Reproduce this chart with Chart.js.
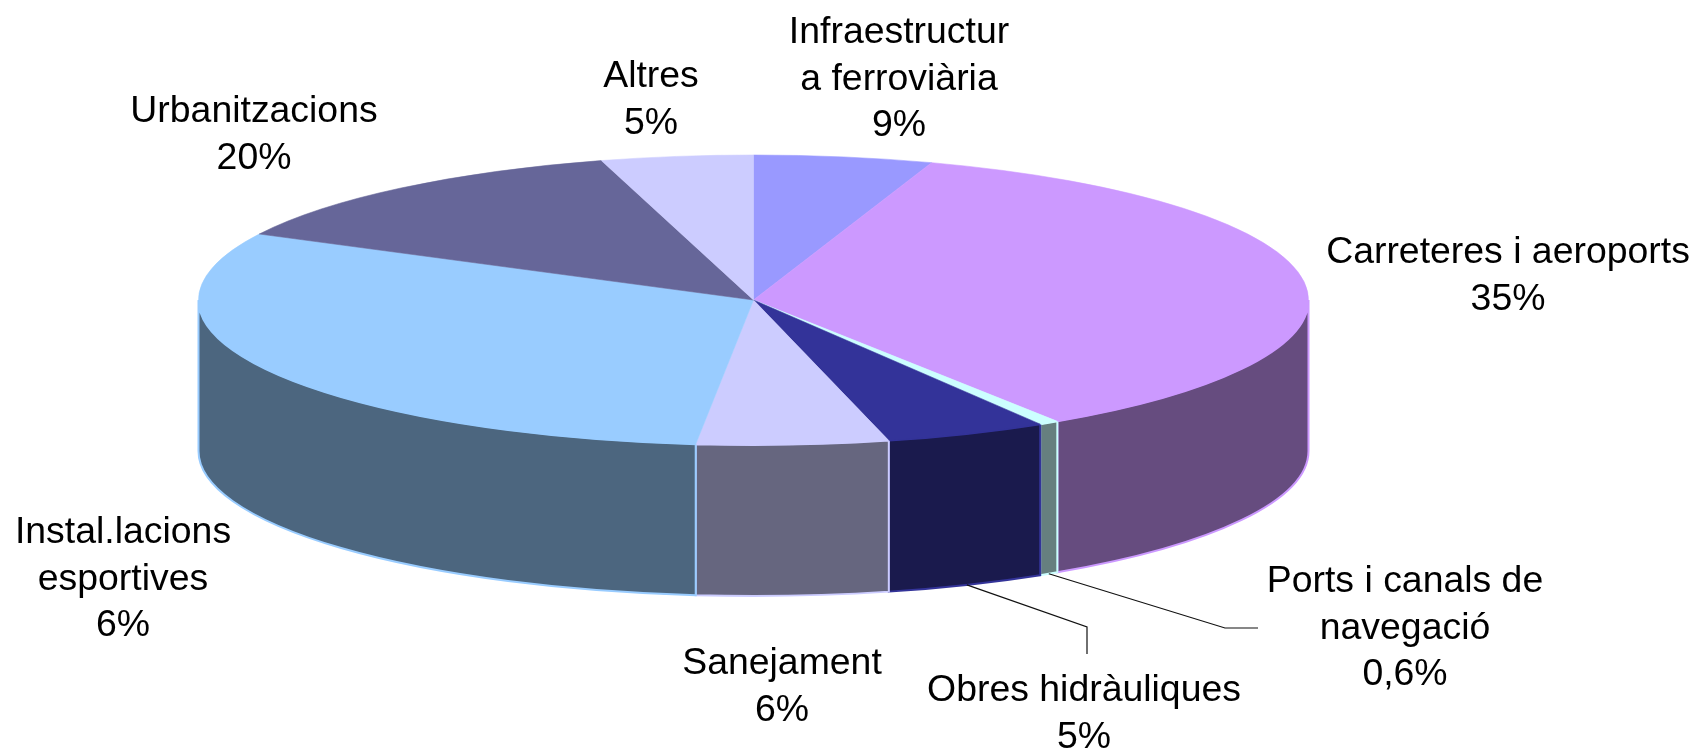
<!DOCTYPE html>
<html>
<head>
<meta charset="utf-8">
<style>html,body{margin:0;padding:0;background:#fff}canvas{display:block}</style>
<script src="https://cdn.jsdelivr.net/npm/chart.js@4"></script>
</head>
<body>
<canvas id="c" width="1698" height="752"></canvas>
<script>
// Slices in clockwise order from 12 o'clock
const categories = ["Infraestructura ferroviària","Carreteres i aeroports","Ports i canals de navegació","Obres hidràuliques","Sanejament","Instal.lacions esportives","Urbanitzacions","Altres"];
const sliceShares = [5.2,35.58,0.58,4.72,5.58,30.86,13.06,4.42];
const printedPercents = ["9%","35%","0,6%","5%","6%","6%","20%","5%"];
const labelLines = [["Infraestructur","a ferroviària"],["Carreteres i aeroports"],["Ports i canals de","navegació"],["Obres hidràuliques"],["Sanejament"],["Instal.lacions","esportives"],["Urbanitzacions"],["Altres"]];
const topColors = ["#9999FF","#CC99FF","#CCFFFF","#333399","#CCCCFF","#99CCFF","#666699","#CCCCFF"];
const wallColors = ["#4C4C7F","#664C7F","#667F7F","#1A1A4D","#66667F","#4C667F","#33334D","#66667F"];

// Layout of the tilted pie and of the annotations (style only)
const pie = {cx:753.5, cy:300, rx:555, ry:145, depth:151};
const labelCenters = [[899,33],[1508,253],[1405,582],[1084,691],[782,664],[123,533],[254,112],[651,77]];
const lineHeight = 46.5;
const leaders = {2:[[1225,628],[1258,628]], 3:[[1087,627],[1087,654]]};

const tilted = {
  id:'tilted',
  beforeDatasetsDraw(chart){
    const ctx = chart.ctx, arcs = chart.getDatasetMeta(0).data;
    const {cx,cy,rx,ry,depth} = pie;
    ctx.save();
    // side wall of every slice, from the library's arc angles
    arcs.forEach((a,i)=>{
      const s = a.startAngle, e = a.endAngle;
      [[s,e],[s-2*Math.PI,e-2*Math.PI],[s+2*Math.PI,e+2*Math.PI]].forEach(([p,q])=>{
        const s0 = Math.max(p,0), e0 = Math.min(q,Math.PI);
        if(e0<=s0) return;
        ctx.beginPath();
        ctx.ellipse(cx,cy,rx,ry,0,s0,e0,false);
        ctx.ellipse(cx,cy+depth,rx,ry,0,e0,s0,true);
        ctx.closePath();
        ctx.fillStyle = wallColors[i];
        ctx.fill();
        ctx.strokeStyle = topColors[i];
        ctx.lineWidth = 2;
        ctx.stroke();
      });
    });
    ctx.restore();
    const a0 = arcs[0], R = a0.outerRadius;
    ctx.save();
    ctx.translate(cx,cy);
    ctx.scale(rx/R,ry/R);
    ctx.translate(-a0.x,-a0.y);
  },
  afterDatasetsDraw(chart){
    const ctx = chart.ctx, arcs = chart.getDatasetMeta(0).data;
    ctx.restore();
    const {cx,cy,rx,ry,depth} = pie;
    // leader lines start on the lower rim at the slice's middle angle
    ctx.save();
    ctx.strokeStyle = '#111';
    ctx.lineWidth = 1.2;
    Object.keys(leaders).forEach(k=>{
      const a = arcs[k], m = (a.startAngle+a.endAngle)/2;
      ctx.beginPath();
      ctx.moveTo(cx+rx*Math.cos(m), cy+depth+ry*Math.sin(m));
      leaders[k].forEach(p=>ctx.lineTo(p[0],p[1]));
      ctx.stroke();
    });
    // labels
    ctx.fillStyle = '#000';
    ctx.font = '37.4px "Liberation Sans"';
    ctx.textAlign = 'center';
    ctx.textBaseline = 'middle';
    categories.forEach((_,i)=>{
      const lines = labelLines[i].concat(printedPercents[i]);
      lines.forEach((t,j)=>ctx.fillText(t,labelCenters[i][0],labelCenters[i][1]+j*lineHeight));
    });
    ctx.restore();
  }
};

new Chart(document.getElementById('c'),{
  type:'pie',
  data:{labels:categories,datasets:[{data:sliceShares,backgroundColor:topColors,borderColor:topColors,borderWidth:0.6}]},
  options:{
    responsive:false,
    animation:false,
    rotation:0,
    layout:{padding:0},
    plugins:{legend:{display:false},tooltip:{enabled:false}}
  },
  plugins:[tilted]
});
</script>
</body>
</html>
